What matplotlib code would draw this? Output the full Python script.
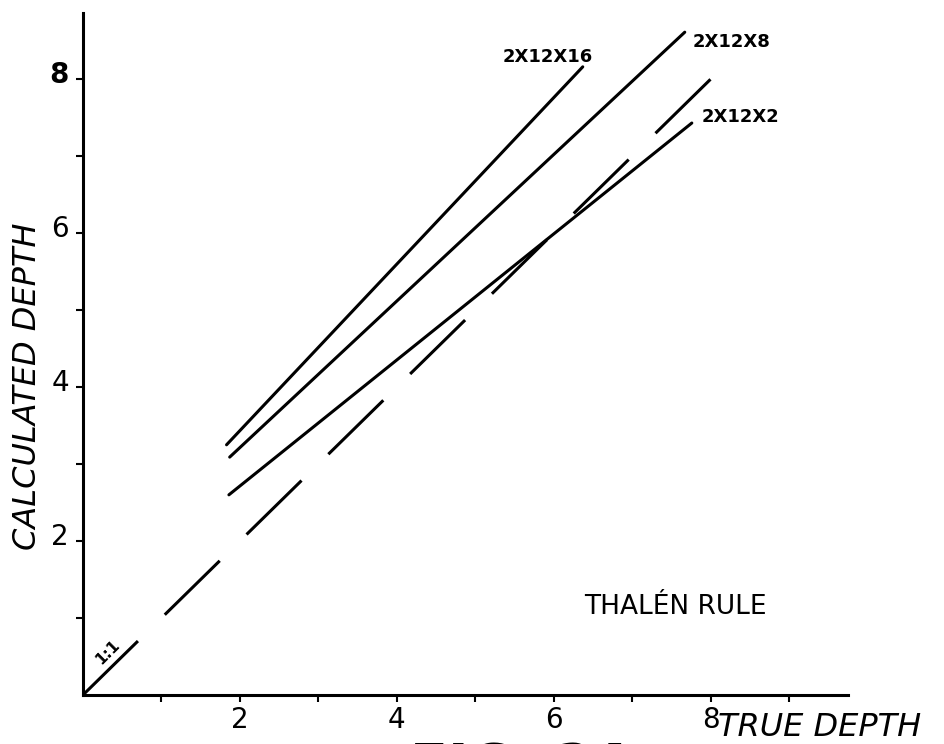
import matplotlib
matplotlib.use("Agg")
import matplotlib.pyplot as plt
import matplotlib.transforms as mtransforms

# Lines: (true depth, calculated depth) at start and end
curve_names = ['2X12X16', '2X12X8', '2X12X2']
true_start = [1.83, 1.87, 1.86]
calc_start = [3.25, 3.09, 2.60]
true_end = [6.37, 7.67, 7.76]
calc_end = [8.16, 8.61, 7.43]

# label anchors (left edge, vertical centre)
label_x = [5.35, 7.77, 7.89]
label_y = [8.29, 8.48, 7.51]

# 1:1 reference line
ref_x = [0, 8.03]
ref_y = [0, 8.03]

x_ticks = [1, 2, 3, 4, 5, 6, 7, 8, 9]
x_ticklabels = ['', '2', '', '4', '', '6', '', '8', '']
y_ticks = [1, 2, 3, 4, 5, 6, 7, 8]
y_ticklabels = ['', '2', '', '4', '', '6', '', '8']

fig = plt.figure(figsize=(9.45, 7.44), dpi=100)
ax = fig.add_axes([0.0878, 0.0659, 0.8095, 0.9167])

lw = 2.2
for xs, ys, xe, ye in zip(true_start, calc_start, true_end, calc_end):
    ax.plot([xs, xe], [ys, ye], color='black', lw=lw, solid_capstyle='round')

ax.plot(ref_x, ref_y, color='black', lw=lw, linestyle=(0, (25.2, 12.3)))

for name, lx, ly in zip(curve_names, label_x, label_y):
    ax.text(lx, ly, name, fontsize=13, fontweight='bold', ha='left', va='center')

ax.text(0.32, 0.56, '1:1', fontsize=11, fontweight='bold', rotation=45,
        ha='center', va='center')
ax.text(6.39, 1.14, 'THALÉN RULE', fontsize=19, ha='left', va='center')

ax.set_xlim(0, 9.75)
ax.set_ylim(0, 8.86)
ax.spines['top'].set_visible(False)
ax.spines['right'].set_visible(False)
ax.spines['left'].set_linewidth(lw)
ax.spines['bottom'].set_linewidth(lw)

ax.set_xticks(x_ticks)
ax.set_xticklabels(x_ticklabels, fontsize=20)
ax.set_yticks(y_ticks)
ax.set_yticklabels(y_ticklabels, fontsize=20)
ax.tick_params(axis='both', length=5, width=1.5, direction='out', pad=3)
ax.tick_params(axis='y', pad=5)

# y tick labels sit a little above their ticks in the original
offset = mtransforms.ScaledTranslation(0, 7 / 100, fig.dpi_scale_trans)
for lab in ax.get_yticklabels():
    lab.set_transform(lab.get_transform() + offset)
    if lab.get_text() == '8':
        lab.set_fontweight('bold')

ax.set_xlabel('TRUE DEPTH', fontsize=23, style='italic', ha='left', va='center')
ax.xaxis.set_label_coords(0.83, -0.048)
ax.set_ylabel('CALCULATED DEPTH', fontsize=23, style='italic', ha='center', va='center')
ax.yaxis.set_label_coords(-0.072, 0.453)

# figure caption, cut off by the bottom edge as in the scan
fig.text(0.434, 0.004, 'FIG. 2A', fontsize=40, fontweight='bold', ha='left', va='top')

fig.savefig('out.png', dpi=100)
